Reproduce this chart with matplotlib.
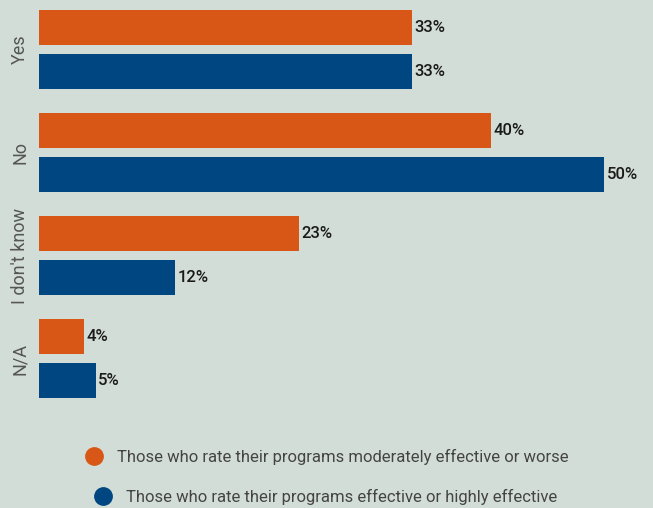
import matplotlib.pyplot as plt
from matplotlib.lines import Line2D
import numpy as np

# Réponses et pourcentages par groupe
categories = ['Yes', 'No', "I don't know", 'N/A']
moderate_or_worse = [33, 40, 23, 4]
effective_or_high = [33, 50, 12, 5]
legend_labels = ['Those who rate their programs moderately effective or worse',
                 'Those who rate their programs effective or highly effective']

bg = '#d3ddd8'
orange = '#d95716'
blue = '#004680'

plt.rcParams['font.family'] = ['Roboto', 'DejaVu Sans']

fig = plt.figure(figsize=(6.53, 5.08), dpi=100, facecolor=bg)
ax = fig.add_axes([39 / 653, 1 - 399 / 508, 601 / 653, 389 / 508], facecolor=bg)

y = np.arange(len(categories))
h = 0.34
off = 0.2136
b1 = ax.barh(y - off, moderate_or_worse, height=h, color=orange)
b2 = ax.barh(y + off, effective_or_high, height=h, color=blue)

# Étiquettes de valeur au bout de chaque barre
for bars, vals in [(b1, moderate_or_worse), (b2, effective_or_high)]:
    for bar, v in zip(bars, vals):
        ax.annotate(f'{v}%', (bar.get_width(), bar.get_y() + bar.get_height() / 2),
                    xytext=(2, 0), textcoords='offset points', va='center', ha='left',
                    fontsize=12, fontweight='medium', color='#1a1a1a')

ax.set_xlim(0, 601 / 11.3)
ax.set_ylim(3 + 40.5 / 103, -39.5 / 103)
ax.set_yticks(y)
ax.set_yticklabels(categories, rotation=90, va='center', fontsize=13, color='#555555')
ax.tick_params(axis='y', length=0, pad=7)
ax.set_xticks([])
for s in ax.spines.values():
    s.set_visible(False)

# Légende sur deux lignes, la seconde légèrement décalée
h1 = Line2D([], [], marker='o', ls='none', color=orange, markersize=12.5)
h2 = Line2D([], [], marker='o', ls='none', color=blue, markersize=12.5)
fig.legend(handles=[h1], labels=[legend_labels[0]], loc='center left',
           bbox_to_anchor=(62 / 653, 1 - 457 / 508), frameon=False, fontsize=12,
           handletextpad=0.4, labelcolor='#444444')
fig.legend(handles=[h2], labels=[legend_labels[1]], loc='center left',
           bbox_to_anchor=(71 / 653, 1 - 497 / 508), frameon=False, fontsize=12,
           handletextpad=0.4, labelcolor='#444444')

fig.savefig('out.png', dpi=100, facecolor=bg)
